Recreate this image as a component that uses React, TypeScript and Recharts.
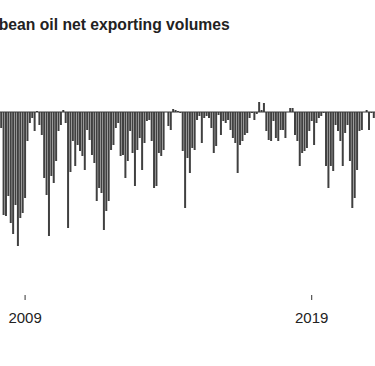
import { BarChart, Bar, XAxis, YAxis, ReferenceLine } from 'recharts';

// monthly net exports, Mar 2008 - Mar 2021 (negative = net imports)
const values2008 = [-16, -103, -104, -84, -111, -122, -93, -134, -106, -101]; // Mar-Dec
const values2009 = [-86, -29, -11, -6, -19, 1, -13, -23, -66, -83, -124, -64];
const values2010 = [-71, -49, -19, -13, 2, -11, -116, -60, -29, -54, -33, -39];
const values2011 = [-44, -58, -18, -28, -43, -51, -89, -76, -81, -118, -99, -89];
const values2012 = [-38, -33, -16, -11, -44, -43, -66, -49, -19, -41, -74, -38];
const values2013 = [-26, -58, -31, -9, -8, -29, -76, -74, -41, -44, -38, 0];
const values2014 = [-14, -18, 3, 2, 1, -1, -39, -96, -46, -61, -36, -38];
const values2015 = [-8, -4, -31, -6, -4, -6, -16, -41, -34, -3, -23, -9];
const values2016 = [-11, -8, -18, -26, -31, -61, -33, -29, -23, -21, -6, -1];
const values2017 = [-8, -2, 10, 2, 9, -19, -28, -29, -9, -26, -29, -18];
const values2018 = [-18, -26, 0, 4, 4, -23, -29, -54, -41, -39, -36, -19];
const values2019 = [-9, -33, -11, -6, -4, -1, -54, -76, -54, -59, -13, -19];
const values2020 = [-29, -54, -21, -13, -49, -96, -86, -58, -19, -18, 0, 2];
const values2021 = [-18, -1, -6]; // Jan-Mar

const yearSeries: Array<[number, number, number[]]> = [
  [2008, 3, values2008],
  [2009, 1, values2009],
  [2010, 1, values2010],
  [2011, 1, values2011],
  [2012, 1, values2012],
  [2013, 1, values2013],
  [2014, 1, values2014],
  [2015, 1, values2015],
  [2016, 1, values2016],
  [2017, 1, values2017],
  [2018, 1, values2018],
  [2019, 1, values2019],
  [2020, 1, values2020],
  [2021, 1, values2021],
];

const tickMonths = ['2009-01', '2019-01'];

const data = yearSeries.flatMap(([year, firstMonth, vals]) =>
  vals.map((value, i) => ({
    month: `${year}-${String(firstMonth + i).padStart(2, '0')}`,
    value,
  }))
);

const font = '"Liberation Sans", Arial, Helvetica, sans-serif';

const App = () => {
  return (
    <div
      style={{
        position: 'absolute',
        left: 0,
        top: 0,
        width: 375,
        height: 366,
        overflow: 'hidden',
        background: '#fff',
      }}
    >
      <div
        style={{
          position: 'absolute',
          left: -30,
          top: 17,
          whiteSpace: 'nowrap',
          fontFamily: font,
          fontSize: 15.7,
          lineHeight: '16px',
          fontWeight: 700,
          color: '#222',
        }}
      >
        Soybean oil net exporting volumes
      </div>
      <BarChart
        width={375}
        height={366}
        data={data}
        margin={{ top: 97, right: 0, bottom: 0, left: 0 }}
        barCategoryGap="8%"
      >
        <XAxis
          dataKey="month"
          ticks={tickMonths}
          interval={0}
          height={71}
          axisLine={false}
          tickLine={{ stroke: '#333' }}
          tickSize={5}
          tickMargin={12}
          tick={{ fill: '#222', fontSize: 15, fontFamily: font }}
          tickFormatter={(v: string) => v.slice(0, 4)}
        />
        <YAxis hide domain={[-183, 15]} />
        <Bar dataKey="value" fill="#404040" isAnimationActive={false} />
        <ReferenceLine y={0} stroke="#3a3a3a" strokeWidth={1} />
      </BarChart>
    </div>
  );
};

export default App;
